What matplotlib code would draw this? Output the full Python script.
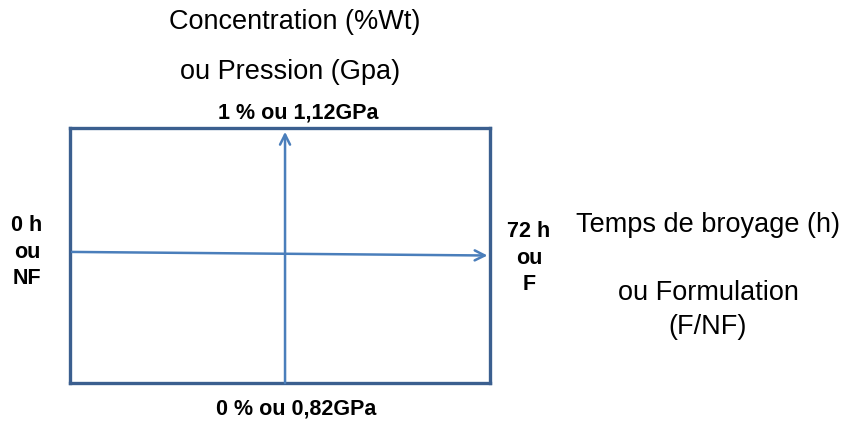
import matplotlib.pyplot as plt

plt.rcParams['font.family'] = ['Liberation Sans', 'DejaVu Sans']

# axis ranges of the diagram
time_range = [0, 72]          # temps de broyage (h)
conc_range = [0, 1]           # concentration (%Wt)

# arrow positions as fractions of the box
h_arrow_y = [0.514, 0.50]     # left end, right end
v_arrow_x = 0.512

# labels
top_title = ["Concentration (%Wt)", "ou Pression (Gpa)"]
top_label = "1 % ou 1,12GPa"
bottom_label = "0 % ou 0,82GPa"
left_label = "0 h\nou\nNF"
right_label = "72 h\nou\nF"
right_title = ["Temps de broyage (h)", "ou Formulation", "(F/NF)"]

W, H = 845, 425
fig = plt.figure(figsize=(W / 100, H / 100), dpi=100)
fig.patch.set_facecolor('white')

# box placed in pixel terms
ax = fig.add_axes([70 / W, 1 - 383 / H, 420 / W, 255 / H])
ax.set_xlim(time_range)
ax.set_ylim(conc_range)
ax.set_xticks([])
ax.set_yticks([])
for sp in ax.spines.values():
    sp.set_color('#3b5f8f')
    sp.set_linewidth(2.4)

arrow_col = '#4a7ebb'
x0, x1 = time_range
y0, y1 = conc_range
ax.annotate('', xy=(x1 - 0.006 * (x1 - x0), y0 + h_arrow_y[1] * (y1 - y0)),
            xytext=(x0 + 0.005 * (x1 - x0), y0 + h_arrow_y[0] * (y1 - y0)),
            arrowprops=dict(arrowstyle='->', color=arrow_col, lw=1.8,
                            mutation_scale=18, shrinkA=0, shrinkB=0))
xv = x0 + v_arrow_x * (x1 - x0)
ax.annotate('', xy=(xv, y1 - 0.015 * (y1 - y0)), xytext=(xv, y0),
            arrowprops=dict(arrowstyle='->', color=arrow_col, lw=1.8,
                            mutation_scale=18, shrinkA=0, shrinkB=0))


def ftext(x, y, s, **kw):
    fig.text(x / W, 1 - y / H, s, ha='center', va='center', **kw)


ftext(295, 22, top_title[0], fontsize=19.5)
ftext(290, 72, top_title[1], fontsize=19.5)
ftext(298, 113, top_label, fontsize=15.5, fontweight='bold')
ftext(296, 409, bottom_label, fontsize=15.5, fontweight='bold')
ftext(27, 252, left_label, fontsize=15.5, fontweight='bold', linespacing=1.35)
ftext(529, 258, right_label, fontsize=15.5, fontweight='bold', linespacing=1.35)
ftext(708, 225, right_title[0], fontsize=19.5)
ftext(708, 293, right_title[1], fontsize=19.5)
ftext(708, 327, right_title[2], fontsize=19.5)

fig.savefig('out.png', dpi=100, facecolor='white')
